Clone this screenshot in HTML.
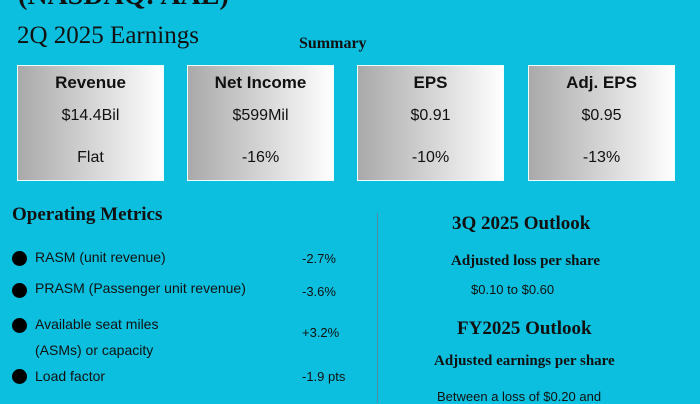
<!DOCTYPE html>
<html><head><meta charset="utf-8"><style>
body{margin:0;width:700px;height:400px;overflow:hidden;background:#0dbfde;position:relative;font-family:"Liberation Sans",sans-serif;color:#111}
.a{position:absolute;white-space:nowrap}
.serif{font-family:"Liberation Serif",serif}
.card{position:absolute;top:65px;width:145px;height:114px;background:linear-gradient(90deg,#a9a9a9,#fff);border:1px solid #eff}
.card div{position:absolute;left:0;width:100%;text-align:center}
.t{top:7px;font-weight:bold;font-size:17px}
.v{top:41px;font-size:16px}
.c{top:83px;font-size:16px}
.dot{position:absolute;left:12px;width:15px;height:15px;border-radius:50%;background:#000}
.m{position:absolute;left:35px;font-size:14px}
.p{position:absolute;left:302px;font-size:13px}
</style></head><body>
<div class="a serif" style="left:18px;top:-20px;font-size:28px;font-weight:bold">(NASDAQ: AAL)</div>
<div class="a serif" style="left:17px;top:22px;font-size:25px">2Q 2025 Earnings</div>
<div class="a serif" style="left:299px;top:35px;font-size:16px;font-weight:bold">Summary</div>
<div class="card" style="left:17px"><div class="t">Revenue</div><div class="v">$14.4Bil</div><div class="c">Flat</div></div>
<div class="card" style="left:187px"><div class="t">Net Income</div><div class="v">$599Mil</div><div class="c">-16%</div></div>
<div class="card" style="left:357px"><div class="t">EPS</div><div class="v">$0.91</div><div class="c">-10%</div></div>
<div class="card" style="left:528px"><div class="t">Adj. EPS</div><div class="v">$0.95</div><div class="c">-13%</div></div>
<div class="a serif" style="left:12px;top:204px;font-size:19px;font-weight:bold">Operating Metrics</div>
<div class="dot" style="top:251px"></div>
<div class="m a" style="top:249px">RASM (unit revenue)</div>
<div class="p a" style="top:251px">-2.7%</div>
<div class="dot" style="top:283px"></div>
<div class="m a" style="top:280px">PRASM (Passenger unit revenue)</div>
<div class="p a" style="top:284px">-3.6%</div>
<div class="dot" style="top:318px"></div>
<div class="m a" style="top:311px;line-height:26px">Available seat miles<br>(ASMs) or capacity</div>
<div class="p a" style="top:325px">+3.2%</div>
<div class="dot" style="top:369px"></div>
<div class="m a" style="top:368px">Load factor</div>
<div class="p a" style="top:369px">-1.9 pts</div>
<div class="a" style="left:377px;top:213px;width:1px;height:190px;background:#4a8fa0"></div>
<div class="a serif" style="left:452px;top:213px;font-size:19px;font-weight:bold">3Q 2025 Outlook</div>
<div class="a serif" style="left:451px;top:253px;font-size:15px;font-weight:bold">Adjusted loss per share</div>
<div class="a" style="left:471px;top:282px;font-size:13px">$0.10 to $0.60</div>
<div class="a serif" style="left:457px;top:318px;font-size:19px;font-weight:bold">FY2025 Outlook</div>
<div class="a serif" style="left:434px;top:353px;font-size:15px;font-weight:bold">Adjusted earnings per share</div>
<div class="a" style="left:437px;top:389px;font-size:13px">Between a loss of $0.20 and</div>
</body></html>
